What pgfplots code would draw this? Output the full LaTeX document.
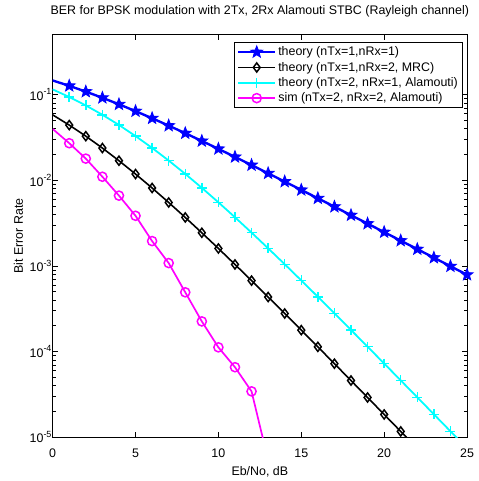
\documentclass[border=0pt]{standalone}
\usepackage{pgfplots}
\pgfplotsset{compat=1.18}
\usepackage{fontspec}
\setmainfont{Liberation Sans}
\definecolor{mblue}{RGB}{0,0,255}
\definecolor{mcyan}{RGB}{0,255,255}
\definecolor{mmag}{RGB}{255,0,255}
\newcommand{\sfsz}{\fontsize{12.5}{15}\selectfont}
\newcommand{\pw}[1]{10\raisebox{5.5pt}{\fontsize{9}{9}\selectfont -#1}}
\pgfdeclareplotmark{pstar}{%
 \pgfpathmoveto{\pgfqpointpolar{90}{\pgfplotmarksize}}%
 \pgfpathlineto{\pgfqpointpolar{126}{0.42\pgfplotmarksize}}%
 \pgfpathlineto{\pgfqpointpolar{162}{\pgfplotmarksize}}%
 \pgfpathlineto{\pgfqpointpolar{198}{0.42\pgfplotmarksize}}%
 \pgfpathlineto{\pgfqpointpolar{234}{\pgfplotmarksize}}%
 \pgfpathlineto{\pgfqpointpolar{270}{0.42\pgfplotmarksize}}%
 \pgfpathlineto{\pgfqpointpolar{306}{\pgfplotmarksize}}%
 \pgfpathlineto{\pgfqpointpolar{342}{0.42\pgfplotmarksize}}%
 \pgfpathlineto{\pgfqpointpolar{18}{\pgfplotmarksize}}%
 \pgfpathlineto{\pgfqpointpolar{54}{0.42\pgfplotmarksize}}%
 \pgfpathclose
 \pgfusepathqfillstroke}
\begin{document}
\sfsz
\begin{tikzpicture}
\begin{axis}[
 name=ax, at={(0,0)}, anchor=south west,
 scale only axis, width=417pt, height=405pt,
 xmin=0, xmax=25, ymode=log, ymin=1e-5, ymax=0.5,
 xtick={0,5,10,15,20,25}, xticklabels={0,5,10,15,20,25},
 ytick={1e-5,1e-4,1e-3,1e-2,1e-1}, yticklabels={\pw{5},\pw{4},\pw{3},\pw{2},\pw{1}},
 tick align=inside, major tick length=5pt, minor tick length=3pt,
 axis line style={line width=0.8pt},
 every tick/.style={black, line width=0.6pt},
 tick label style={font=\sfsz},
 xticklabel style={anchor=base, yshift=-20.7pt},
 yticklabel style={anchor=east, inner xsep=1pt},
 title={BER for BPSK modulation with 2Tx, 2Rx Alamouti STBC (Rayleigh channel)},
 title style={at={(axis description cs:0.5,1)}, anchor=base, yshift=14.3pt, font=\sfsz},
 xlabel={Eb/No, dB},
 xlabel style={at={(axis description cs:0.5,0)}, anchor=base, yshift=-38.3pt, font=\sfsz},
 ylabel={Bit Error Rate},
 ylabel style={at={(axis description cs:-0.0719,0.5)}, anchor=base, font=\sfsz},
 legend style={at={(axis description cs:0.9904,0.981)}, anchor=north east, draw=black, fill=white, line width=0.6pt, font=\sfsz, row sep=0.5pt},
 legend cell align=left,
 legend image code/.code={\draw[#1, mark indices={2}] plot coordinates {(0pt,0pt) (18.5pt,0pt) (37pt,0pt)};},
 clip mode=individual,
]
\addplot[mblue, line width=2.4pt, mark=pstar, mark size=6.3pt, mark options={fill=mblue, solid, line width=0.8pt, line join=miter}, mark indices={2,...,26}] coordinates {
(0,0.14645) (1,0.12673) (2,0.10848) (3,0.09191) (4,0.07714) (5,0.06418) (6,0.05300) (7,0.04347) (8,0.03546) (9,0.02878) (10,0.02327) (11,0.01874) (12,0.01506) (13,0.01207) (14,0.009663) (15,0.007722) (16,0.006163) (17,0.004915) (18,0.003916) (19,0.003118) (20,0.002481) (21,0.001974) (22,0.001570) (23,0.001248) (24,0.000992) (25,0.000789)
};
\addlegendentry{theory (nTx=1,nRx=1)}
\addplot[black, line width=1.6pt, mark=diamond, mark size=4.6pt, mark options={fill=white, solid, line width=1.5pt}, mark indices={2,...,22}] coordinates {
(0,0.058058) (1,0.044113) (2,0.032753) (3,0.023791) (4,0.016932) (5,0.011830) (6,0.008129) (7,0.005506) (8,0.003683) (9,0.002438) (10,0.0015991) (11,0.0010404) (12,0.0006736) (13,0.0004336) (14,0.0002783) (15,0.0001780) (16,0.0001135) (17,7.223e-5) (18,4.589e-5) (19,2.911e-5) (20,1.844e-5) (21,1.168e-5) (22,7.39e-6) (23,4.67e-6) (24,2.95e-6) (25,1.87e-6)
};
\addlegendentry{theory (nTx=1,nRx=2, MRC)}
\addplot[mcyan, line width=1.8pt, mark=+, mark size=5pt, mark options={solid, line width=1.5pt}, mark indices={2,...,25}] coordinates {
(0,0.11510) (1,0.09388) (2,0.07481) (3,0.058215) (4,0.044244) (5,0.032858) (6,0.023872) (7,0.016994) (8,0.011874) (9,0.008160) (10,0.005528) (11,0.003698) (12,0.0024483) (13,0.0016061) (14,0.0010459) (15,0.00067706) (16,0.00043604) (17,0.00027961) (18,0.00017880) (19,0.00011402) (20,7.2558e-5) (21,4.609e-5) (22,2.924e-5) (23,1.853e-5) (24,1.173e-5) (25,7.422e-6)
};
\addlegendentry{theory (nTx=2, nRx=1, Alamouti)}
\addplot[mmag, line width=1.7pt, mark=o, mark size=4.6pt, mark options={fill=white, solid, line width=1.5pt}, mark indices={2,...,13}] coordinates {
(0,0.0398) (1,0.0271) (2,0.0179) (3,0.0110) (4,0.00662) (5,0.00385) (6,0.00195) (7,0.00108) (8,4.92e-4) (9,2.25e-4) (10,1.12e-4) (11,6.57e-5) (12,3.43e-5) (13,5.4e-6)
};
\addlegendentry{sim (nTx=2, nRx=2, Alamouti)}
\end{axis}
\path (-53pt,-41pt) rectangle (424pt,440pt);
\end{tikzpicture}
\end{document}
